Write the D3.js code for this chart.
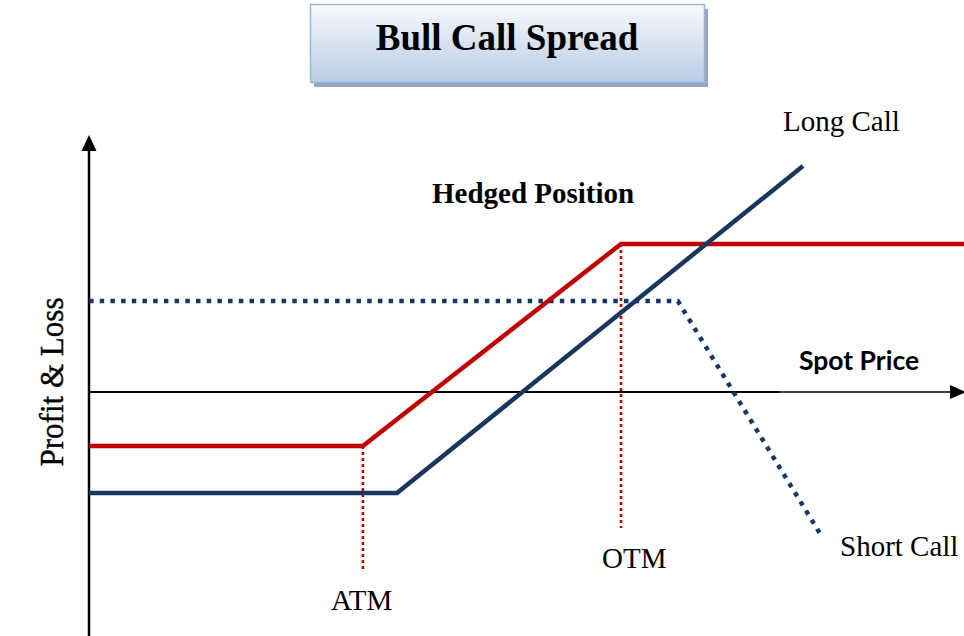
<!DOCTYPE html>
<html>
<head>
<meta charset="utf-8">
<script src="https://cdn.jsdelivr.net/npm/d3@7"></script>
<style>
  body { margin: 0; background: #fff; }
  svg { display: block; }
</style>
</head>
<body>
<svg id="chart" width="964" height="636"></svg>
<script>
// payoff profiles, spot price (0..100) vs profit & loss
const longCall  = [[0, -10.1], [35.2, -10.1], [81.6, 22.6]];
const shortCall = [[0, 9.1], [67.3, 9.1], [83.5, -14.1]];
const hedged    = [[0, -5.4], [31.3, -5.4], [60.8, 14.8], [100, 14.8]];
// strike markers: spot, top value, bottom value
const strikes = [
  {name: 'ATM', spot: 31.3, top: -5.4, bottom: -18.0},
  {name: 'OTM', spot: 60.8, top: 14.8, bottom: -13.6}
];

const svg = d3.select('#chart');

const x = d3.scaleLinear().domain([0, 100]).range([89, 964]);
const y = d3.scaleLinear().domain([-25, 25]).range([642, 142]);

const line = d3.line().x(d => x(d[0])).y(d => y(d[1]));

// title box
const defs = svg.append('defs');
const grad = defs.append('linearGradient')
    .attr('id', 'titleGrad')
    .attr('x1', 0).attr('y1', 0).attr('x2', 0).attr('y2', 1);
grad.append('stop').attr('offset', '0%').attr('stop-color', '#f7f9fc');
grad.append('stop').attr('offset', '100%').attr('stop-color', '#b9cce5');

svg.append('rect')
    .attr('x', 314).attr('y', 9).attr('width', 394).attr('height', 78)
    .attr('fill', '#98a4b8');
svg.append('rect')
    .attr('x', 310.5).attr('y', 4.5).attr('width', 394).attr('height', 78)
    .attr('fill', 'url(#titleGrad)')
    .attr('stroke', '#9ab7da').attr('stroke-width', 1.5);
svg.append('text')
    .attr('x', 507).attr('y', 50)
    .attr('text-anchor', 'middle')
    .style('font', 'bold 37px "Liberation Serif", "Times New Roman", serif')
    .text('Bull Call Spread');

// axes
svg.append('line')
    .attr('x1', x(0)).attr('x2', x(0))
    .attr('y1', 148).attr('y2', 636)
    .attr('stroke', '#000').attr('stroke-width', 2.5);
svg.append('path')
    .attr('d', d3.line()([[x(0) - 7.5, 151], [x(0), 135], [x(0) + 7.5, 151]]) + 'Z')
    .attr('fill', '#000');

svg.append('line')
    .attr('x1', x(0)).attr('x2', 779)
    .attr('y1', y(0)).attr('y2', y(0))
    .attr('stroke', '#000').attr('stroke-width', 2);
svg.append('line')
    .attr('x1', 779).attr('x2', 952)
    .attr('y1', y(0)).attr('y2', y(0))
    .attr('stroke', '#000').attr('stroke-width', 1.3);
svg.append('path')
    .attr('d', d3.line()([[950, y(0) - 7], [966, y(0)], [950, y(0) + 7]]) + 'Z')
    .attr('fill', '#000');

// strike verticals
svg.selectAll('line.strike')
    .data(strikes)
    .enter().append('line')
    .attr('class', 'strike')
    .attr('x1', d => x(d.spot)).attr('x2', d => x(d.spot))
    .attr('y1', d => y(d.top)).attr('y2', d => y(d.bottom))
    .attr('stroke', '#c00000').attr('stroke-width', 2.6)
    .attr('stroke-dasharray', '3,3');

// payoff lines
svg.append('path')
    .datum(shortCall)
    .attr('d', line)
    .attr('fill', 'none')
    .attr('stroke', '#17375e').attr('stroke-width', 4.5)
    .attr('stroke-dasharray', '4.5,6.2');

svg.append('path')
    .datum(hedged)
    .attr('d', line)
    .attr('fill', 'none')
    .attr('stroke', '#c00000').attr('stroke-width', 4.5);

svg.append('path')
    .datum(longCall)
    .attr('d', line)
    .attr('fill', 'none')
    .attr('stroke', '#17375e').attr('stroke-width', 4.5);

// labels
const serif = '29px "Liberation Serif", "Times New Roman", serif';
function label(tx, ty, str, font) {
  return svg.append('text')
      .attr('x', tx).attr('y', ty)
      .style('font', font)
      .text(str);
}
label(783, 131, 'Long Call', serif);
label(432, 203, 'Hedged Position', 'bold 29px "Liberation Serif", "Times New Roman", serif');
label(331, 610, 'ATM', serif);
label(602, 568, 'OTM', serif);
label(840, 556, 'Short Call', serif);
label(799, 370, 'Spot Price', 'bold 26.5px Lato, "Noto Sans", sans-serif');

svg.append('text')
    .attr('transform', 'translate(63,382) rotate(-90)')
    .attr('text-anchor', 'middle')
    .attr('textLength', 169)
    .attr('lengthAdjust', 'spacingAndGlyphs')
    .style('font', '33px "Liberation Serif", "Times New Roman", serif')
    .style('stroke', '#000').style('stroke-width', 0.4)
    .text('Profit & Loss');
</script>
</body>
</html>
